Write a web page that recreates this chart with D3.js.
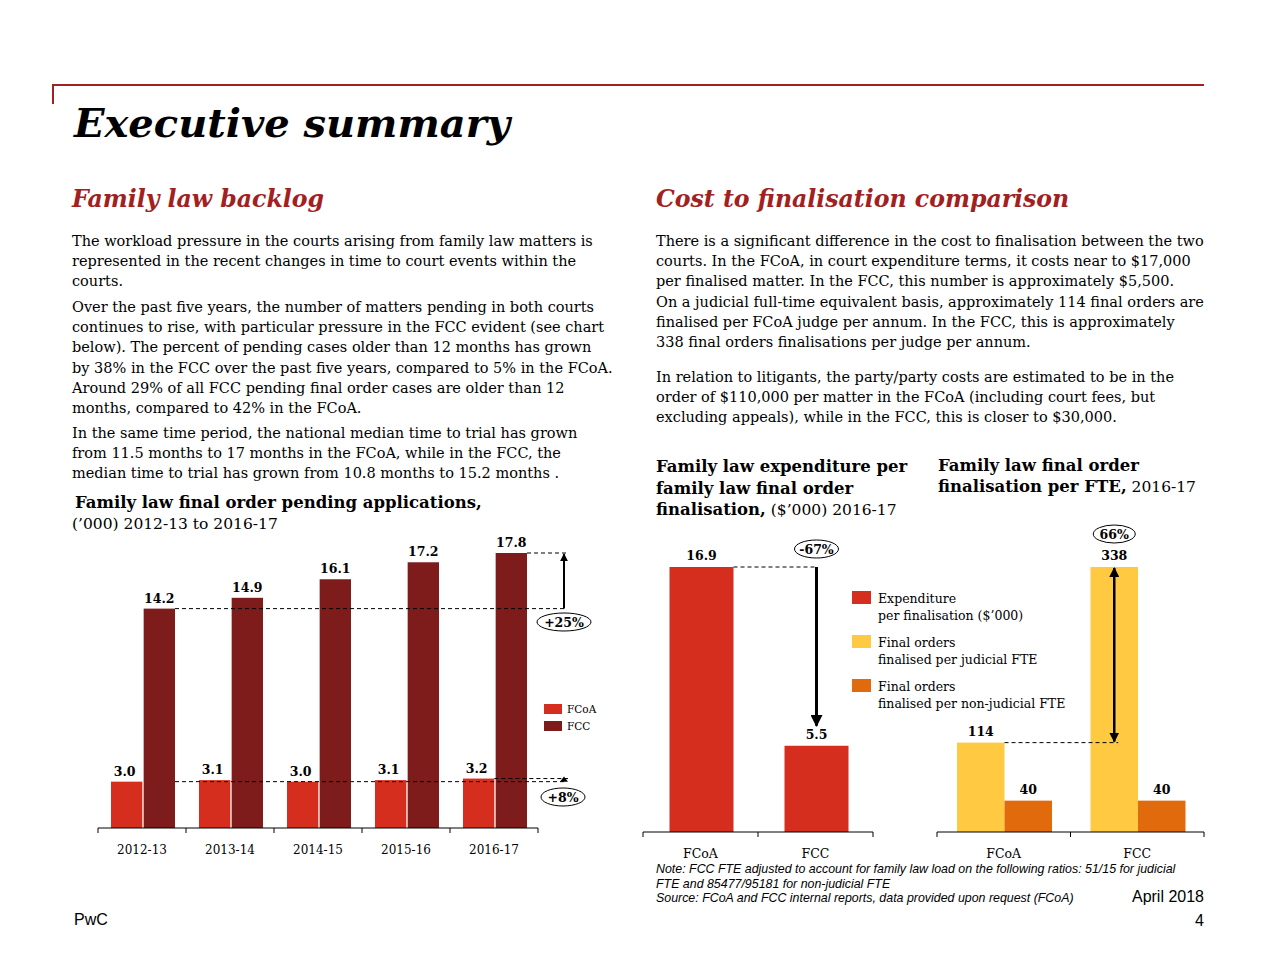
<html lang="en">

<head>
  <meta charset="utf-8">
  <title>Executive summary</title>
  <script type="text/javascript" src="https://d3js.org/d3.v7.min.js"></script>
  <style>
    body { margin: 0; background: #fff; }
    text { font-family: "DejaVu Serif", Georgia, serif; fill: #000; }
    .sans { font-family: "Liberation Sans", Arial, sans-serif; }
  </style>
</head>

<body>
  <svg width="1280" height="960"></svg>
  <script>
    // data
    const years = ["2012-13", "2013-14", "2014-15", "2015-16", "2016-17"];
    const fcoaPending = [3.0, 3.1, 3.0, 3.1, 3.2];
    const fccPending = [14.2, 14.9, 16.1, 17.2, 17.8];
    const courts = ["FCoA", "FCC"];
    const expenditure = [16.9, 5.5];
    const judicialFte = [114, 338];
    const nonJudicialFte = [40, 40];

    const RED = "#d52e1e", DARK = "#7e1b1b", YELLOW = "#ffc941", ORANGE = "#e06a0c", HEAD = "#a32020";

    const svg = d3.select("svg");

    const defs = svg.append("defs");
    defs.append("marker")
      .attr("id", "head")
      .attr("viewBox", "0 0 10 10")
      .attr("refX", 9).attr("refY", 5)
      .attr("markerWidth", 4).attr("markerHeight", 4)
      .attr("orient", "auto-start-reverse")
      .append("path").attr("d", "M0,0L10,5L0,10Z").attr("fill", "#000");

    // header
    svg.append("path")
      .attr("d", "M53,104V85H1204")
      .attr("fill", "none").attr("stroke", HEAD).attr("stroke-width", 2);
    svg.append("text").attr("x", 74).attr("y", 137)
      .style("font-size", "40px").style("font-weight", "bold").style("font-style", "italic")
      .text("Executive summary");

    function heading(x, y, t) {
      svg.append("text").attr("x", x).attr("y", y)
        .style("font-size", "23.6px").style("font-weight", "bold").style("font-style", "italic")
        .style("fill", HEAD).text(t);
    }
    heading(72, 207, "Family law backlog");
    heading(656, 207, "Cost to finalisation comparison");

    function para(x, y0, lines, size) {
      lines.forEach((l, i) => {
        svg.append("text").attr("x", x).attr("y", y0 + i * 20.2)
          .style("font-size", (size || 14.5) + "px").text(l);
      });
    }
    para(72, 246, [
      "The workload pressure in the courts arising from family law matters is",
      "represented in the recent changes in time to court events within the",
      "courts."]);
    para(72, 312, [
      "Over the past five years, the number of matters pending in both courts",
      "continues to rise, with particular pressure in the FCC evident (see chart",
      "below). The percent of pending cases older than 12 months has grown",
      "by 38% in the FCC over the past five years, compared to 5% in the FCoA.",
      "Around 29% of all FCC pending final order cases are older than 12",
      "months, compared to 42% in the FCoA."]);
    para(72, 438, [
      "In the same time period, the national median time to trial has grown",
      "from 11.5 months to 17 months in the FCoA, while in the FCC, the",
      "median time to trial has grown from 10.8 months to 15.2 months ."]);
    para(656, 246, [
      "There is a significant difference in the cost to finalisation between the two",
      "courts. In the FCoA, in court expenditure terms, it costs near to $17,000",
      "per finalised matter. In the FCC, this number is approximately $5,500.",
      "On a judicial full-time equivalent basis, approximately 114 final orders are",
      "finalised per FCoA judge per annum. In the FCC, this is approximately",
      "338 final orders finalisations per judge per annum."]);
    para(656, 382, [
      "In relation to litigants, the party/party costs are estimated to be in the",
      "order of $110,000 per matter in the FCoA (including court fees, but",
      "excluding appeals), while in the FCC, this is closer to $30,000."]);

    // chart titles
    function title(x, y, bold, normal) {
      const t = svg.append("text").attr("x", x).attr("y", y).style("font-size", "15.5px");
      t.append("tspan").style("font-weight", "bold").style("font-size", "16.5px").text(bold);
      if (normal) t.append("tspan").text(normal);
    }
    title(75, 508, "Family law final order pending applications,");
    title(72, 529, "", "(\u2019000) 2012-13 to 2016-17");
    title(656, 472, "Family law expenditure per");
    title(656, 494, "family law final order");
    title(656, 515, "finalisation,", " ($\u2019000) 2016-17");
    title(938, 471, "Family law final order");
    title(938, 492, "finalisation per FTE,", " 2016-17");

    function valueLabel(g, x, y, v, fmt) {
      g.append("text").attr("x", x).attr("y", y).attr("text-anchor", "middle")
        .style("font-size", "12.5px").style("font-weight", "bold").text(fmt(v));
    }

    function baseAxis(g, x, y0, fontSize) {
      g.append("g").attr("transform", `translate(0,${y0})`)
        .call(d3.axisBottom(x).tickSize(0).tickPadding(17))
        .call(a => a.select(".domain").remove())
        .call(a => a.selectAll("text").style("font-size", fontSize + "px")
          .style("font-family", "'DejaVu Serif', Georgia, serif").attr("fill", "#000"));
      const r = x.range();
      g.append("line").attr("x1", r[0]).attr("x2", r[1]).attr("y1", y0).attr("y2", y0)
        .attr("stroke", "#000").attr("stroke-width", 1);
      const ticks = x.domain().map(d => x(d)).concat([r[1]]);
      g.selectAll(".btick").data(ticks).join("line").attr("class", "btick")
        .attr("x1", d => d).attr("x2", d => d).attr("y1", y0).attr("y2", y0 + 5)
        .attr("stroke", "#000");
    }

    function ellipseLabel(g, cx, cy, rx, t) {
      g.append("ellipse").attr("cx", cx).attr("cy", cy).attr("rx", rx).attr("ry", 9)
        .attr("fill", "#fff").attr("stroke", "#000").attr("stroke-width", 1);
      g.append("text").attr("x", cx).attr("y", cy + 4.5).attr("text-anchor", "middle")
        .style("font-size", "12.5px").style("font-weight", "bold").text(t);
    }

    function dashed(g, x1, x2, y) {
      g.append("line").attr("x1", x1).attr("x2", x2).attr("y1", y).attr("y2", y)
        .attr("stroke", "#000").attr("stroke-dasharray", "4,3").attr("stroke-width", 1);
    }

    // ---- chart 1: pending applications
    const c1 = svg.append("g");
    const x1 = d3.scaleBand().domain(years).range([98, 538]);
    const x1s = d3.scaleBand().domain(["FCoA", "FCC"]).range([13, 77]).paddingInner(0.04);
    const y1 = d3.scaleLinear().domain([0, 17.8]).range([828, 553]);
    const rows1 = years.map((yr, i) => ({ yr, fcoa: fcoaPending[i], fcc: fccPending[i] }));

    c1.selectAll(".b1a").data(rows1).join("rect").attr("class", "b1a")
      .attr("x", d => x1(d.yr) + x1s("FCoA")).attr("width", x1s.bandwidth())
      .attr("y", d => y1(d.fcoa)).attr("height", d => y1(0) - y1(d.fcoa)).attr("fill", RED);
    c1.selectAll(".b1b").data(rows1).join("rect").attr("class", "b1b")
      .attr("x", d => x1(d.yr) + x1s("FCC")).attr("width", x1s.bandwidth())
      .attr("y", d => y1(d.fcc)).attr("height", d => y1(0) - y1(d.fcc)).attr("fill", DARK);
    rows1.forEach(d => {
      valueLabel(c1, x1(d.yr) + x1s("FCoA") + x1s.bandwidth() / 2 - 2, y1(d.fcoa) - 6, d.fcoa, d3.format(".1f"));
      valueLabel(c1, x1(d.yr) + x1s("FCC") + x1s.bandwidth() / 2, y1(d.fcc) - 6, d.fcc, d3.format(".1f"));
    });
    baseAxis(c1, x1, 828, 12);

    const last = rows1[rows1.length - 1];
    const lastFccRight = x1(last.yr) + x1s("FCC") + x1s.bandwidth();
    dashed(c1, x1(years[0]) + x1s("FCC") + x1s.bandwidth(), 566, y1(fccPending[0]));
    dashed(c1, lastFccRight, 568, y1(last.fcc));
    c1.append("line").attr("x1", 564).attr("x2", 564)
      .attr("y1", y1(fccPending[0])).attr("y2", y1(last.fcc) + 1)
      .attr("stroke", "#000").attr("stroke-width", 2).attr("marker-end", "url(#head)");
    ellipseLabel(c1, 564, 622, 27, "+25%");

    dashed(c1, x1(years[0]) + x1s("FCC") + x1s.bandwidth(), 566, y1(fcoaPending[0]));
    dashed(c1, x1(last.yr) + x1s("FCoA") + x1s.bandwidth(), 568, y1(last.fcoa));
    c1.append("path")
      .attr("d", `M560,${y1(fcoaPending[0])}L564,${y1(last.fcoa) - 2}L568,${y1(fcoaPending[0])}Z`)
      .attr("fill", "#000");
    ellipseLabel(c1, 563, 797, 22, "+8%");

    // legend 1
    [["FCoA", RED], ["FCC", DARK]].forEach((d, i) => {
      c1.append("rect").attr("x", 544).attr("y", 704 + i * 17).attr("width", 18).attr("height", 10).attr("fill", d[1]);
      c1.append("text").attr("x", 567).attr("y", 713 + i * 17).style("font-size", "10.5px").text(d[0]);
    });

    // ---- chart 2: expenditure per finalisation
    const c2 = svg.append("g");
    const x2 = d3.scaleBand().domain(courts).range([643, 873]);
    const y2 = d3.scaleLinear().domain([0, 16.9]).range([832, 567]);
    const bw2 = 64;
    c2.selectAll("rect").data(expenditure).join("rect")
      .attr("x", (d, i) => x2(courts[i]) + (x2.bandwidth() - bw2) / 2 + 1).attr("width", bw2)
      .attr("y", d => y2(d)).attr("height", d => y2(0) - y2(d)).attr("fill", RED);
    expenditure.forEach((d, i) => valueLabel(c2, x2(courts[i]) + x2.bandwidth() / 2 + 1, y2(d) - 7, d, d3.format(".1f")));
    baseAxis(c2, x2, 832, 12.5);
    const c2a = x2("FCC") + x2.bandwidth() / 2 + 1;
    dashed(c2, x2("FCoA") + (x2.bandwidth() + bw2) / 2 + 1, c2a, y2(expenditure[0]));
    c2.append("line").attr("x1", c2a).attr("x2", c2a)
      .attr("y1", y2(expenditure[0])).attr("y2", y2(expenditure[1]) - 20)
      .attr("stroke", "#000").attr("stroke-width", 3).attr("marker-end", "url(#head)");
    ellipseLabel(c2, c2a, 549, 22, "-67%");

    // ---- chart 3: final orders per FTE
    const c3 = svg.append("g");
    const x3 = d3.scaleBand().domain(courts).range([937, 1204]);
    const x3s = d3.scaleBand().domain(["judicial", "non"]).range([20, 115]);
    const y3 = d3.scaleLinear().domain([0, 338]).range([832, 567]);
    const rows3 = courts.map((c, i) => ({ c, judicial: judicialFte[i], non: nonJudicialFte[i] }));
    c3.selectAll(".b3a").data(rows3).join("rect").attr("class", "b3a")
      .attr("x", d => x3(d.c) + x3s("judicial")).attr("width", x3s.bandwidth())
      .attr("y", d => y3(d.judicial)).attr("height", d => y3(0) - y3(d.judicial)).attr("fill", YELLOW);
    c3.selectAll(".b3b").data(rows3).join("rect").attr("class", "b3b")
      .attr("x", d => x3(d.c) + x3s("non")).attr("width", x3s.bandwidth())
      .attr("y", d => y3(d.non)).attr("height", d => y3(0) - y3(d.non)).attr("fill", ORANGE);
    rows3.forEach(d => {
      valueLabel(c3, x3(d.c) + x3s("judicial") + x3s.bandwidth() / 2, y3(d.judicial) - 7, d.judicial, d3.format("d"));
      valueLabel(c3, x3(d.c) + x3s("non") + x3s.bandwidth() / 2, y3(d.non) - 7, d.non, d3.format("d"));
    });
    baseAxis(c3, x3, 832, 12.5);
    const c3a = x3("FCC") + x3s("judicial") + x3s.bandwidth() / 2;
    dashed(c3, x3("FCoA") + x3s("non"), c3a + 4, y3(judicialFte[0]));
    c3.append("line").attr("x1", c3a).attr("x2", c3a)
      .attr("y1", y3(judicialFte[0]) - 1).attr("y2", y3(judicialFte[1]) + 1)
      .attr("stroke", "#000").attr("stroke-width", 2.5)
      .attr("marker-start", "url(#head)").attr("marker-end", "url(#head)");
    ellipseLabel(c3, c3a, 534, 21, "66%");

    // legend 2
    [[RED, "Expenditure", "per finalisation ($\u2019000)"],
     [YELLOW, "Final orders", "finalised per judicial FTE"],
     [ORANGE, "Final orders", "finalised per non-judicial FTE"]].forEach((d, i) => {
      const yy = 591 + i * 44;
      svg.append("rect").attr("x", 852).attr("y", yy).attr("width", 19).attr("height", 13).attr("fill", d[0]);
      svg.append("text").attr("x", 878).attr("y", yy + 12).style("font-size", "12.5px").text(d[1]);
      svg.append("text").attr("x", 878).attr("y", yy + 29).style("font-size", "12.5px").text(d[2]);
    });

    // notes + footer
    ["Note: FCC FTE adjusted to account for family law load on the following ratios: 51/15 for judicial",
     "FTE and 85477/95181 for non-judicial FTE",
     "Source: FCoA and FCC internal reports, data provided upon request (FCoA)"].forEach((l, i) => {
      svg.append("text").attr("class", "sans").attr("x", 656).attr("y", 873 + i * 14.5)
        .style("font-size", "12.4px").style("font-style", "italic").text(l);
    });
    svg.append("text").attr("class", "sans").attr("x", 1204).attr("y", 902).attr("text-anchor", "end")
      .style("font-size", "16px").text("April 2018");
    svg.append("text").attr("class", "sans").attr("x", 1204).attr("y", 926).attr("text-anchor", "end")
      .style("font-size", "16px").text("4");
    svg.append("text").attr("class", "sans").attr("x", 74).attr("y", 925)
      .style("font-size", "16px").text("PwC");
  </script>
</body>

</html>
